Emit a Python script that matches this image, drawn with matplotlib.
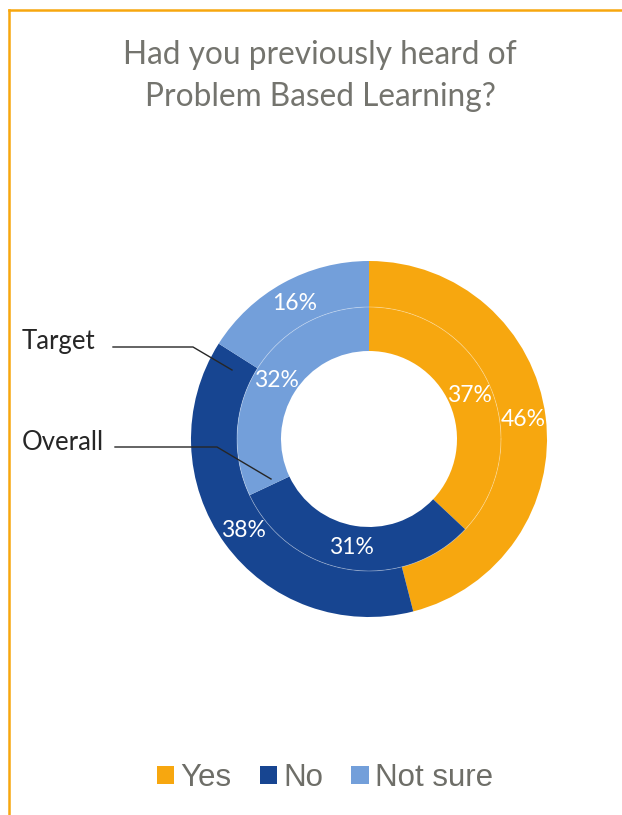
import matplotlib
matplotlib.use("Agg")
import matplotlib.pyplot as plt
from matplotlib.lines import Line2D
from matplotlib.patches import Patch
import numpy as np

categories = ["Yes", "No", "Not sure"]
target = [46, 38, 16]   # outer ring
overall = [37, 31, 32]  # inner ring
ring_names = ["Target", "Overall"]
title = "Had you previously heard of\nProblem Based Learning?"
colors = ["#F7A70F", "#174591", "#739FDA"]

W, H = 622, 815
fig = plt.figure(figsize=(W / 100, H / 100), dpi=100)

# frame lines (left and top)
fig.add_artist(Line2D([8.5 / W, 8.5 / W], [0, 1 - 10 / H], color="#F7A70F", lw=1.8,
                      transform=fig.transFigure))
fig.add_artist(Line2D([8.5 / W, 1], [1 - 10 / H, 1 - 10 / H], color="#F7A70F", lw=1.8,
                      transform=fig.transFigure))

# donut axes: center (369, 439), outer radius 178 px
cx, cy, R = 369, 439, 178
ax = fig.add_axes([(cx - R) / W, 1 - (cy + R) / H, 2 * R / W, 2 * R / H])
ax.set_aspect("equal")

r_out, r_mid, r_in = 1.0, 132 / 178, 88 / 178
w_out = r_out - r_mid
w_in = r_mid - r_in

ax.pie(target, radius=r_out, colors=colors, startangle=90, counterclock=False,
       wedgeprops=dict(width=w_out, linewidth=0))
ax.pie(overall, radius=r_mid, colors=colors, startangle=90, counterclock=False,
       wedgeprops=dict(width=w_in, linewidth=0))
# faint separator between rings
th = np.linspace(0, 2 * np.pi, 400)
ax.plot(r_mid * np.cos(th), r_mid * np.sin(th), color="white", lw=0.6, alpha=0.35)

def label_ring(vals, radius):
    start = 90.0
    total = sum(vals)
    for v in vals:
        ext = v / total * 360
        mid = np.deg2rad(start - ext / 2)
        ax.text(radius * np.cos(mid), radius * np.sin(mid), f"{v}%", color="white",
                ha="center", va="center", fontsize=16.5, family="Lato")
        start -= ext

label_ring(target, (r_out + r_mid) / 2)
label_ring(overall, (r_mid + r_in) / 2)
ax.set_xlim(-1, 1)
ax.set_ylim(-1, 1)
ax.axis("off")

# title
fig.text(320 / W, 1 - 76 / H, title, ha="center", va="center", fontsize=22.8, color="#74746E",
         family="Lato", linespacing=1.5)

# ring name labels with leader lines (figure pixel coords)
def px(x, y):
    return x / W, 1 - y / H

fig.text(*px(22, 341), ring_names[0], ha="left", va="center", fontsize=18.5, color="#262626",
         family="Lato")
fig.text(*px(22, 442), ring_names[1], ha="left", va="center", fontsize=18.5, color="#262626",
         family="Lato")
for pts in ([(113, 347), (193, 347), (232, 370)], [(115, 447), (217, 447), (271, 479)]):
    xs = [px(*p)[0] for p in pts]
    ys = [px(*p)[1] for p in pts]
    fig.add_artist(Line2D(xs, ys, color="#262626", lw=1.0, transform=fig.transFigure))

# legend
handles = [Patch(facecolor=c, edgecolor="none") for c in colors]
leg = fig.legend(handles, categories, loc="center", bbox_to_anchor=(325 / W, 1 - 778 / H),
                 ncol=3, frameon=False, handlelength=0.55, handleheight=0.55,
                 handletextpad=0.2, columnspacing=0.9, prop={"family": "Liberation Sans", "size": 22.5})
for t in leg.get_texts():
    t.set_color("#6E6E68")

fig.savefig("out.png", dpi=100, facecolor="white")
